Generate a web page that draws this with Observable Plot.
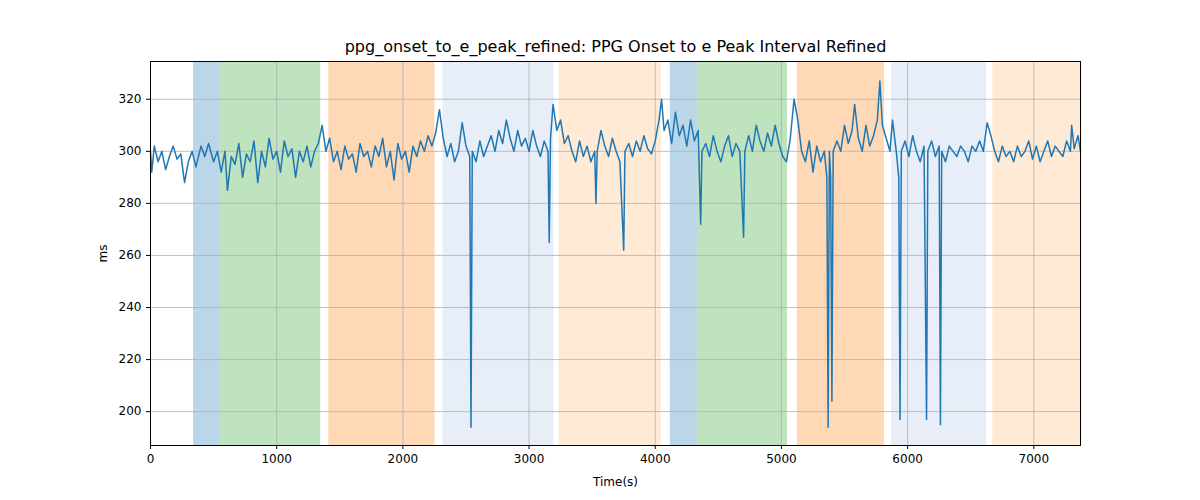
<!DOCTYPE html>
<html><head>
<script src="https://cdn.jsdelivr.net/npm/d3@7"></script>
<script src="https://cdn.jsdelivr.net/npm/@observablehq/plot@0.6"></script>
<style>body{margin:0;background:#fff}</style>
</head><body><div id="c"></div>
<script>
const raw = `0 300,10 292,30 302,60 296,90 300,120 293,150 298,180 302,210 297,240 299,270 288,300 296,330 300,360 294,400 302,430 298,460 303,500 296,530 300,560 292,590 300,610 285,640 298,670 295,700 303,730 290,760 299,790 296,820 304,850 288,880 300,910 294,940 305,970 297,1000 300,1030 292,1060 304,1090 298,1120 301,1150 290,1180 300,1210 296,1240 302,1270 294,1300 300,1330 303,1360 310,1390 300,1420 305,1450 296,1480 300,1510 293,1540 302,1570 297,1600 299,1630 292,1660 303,1690 298,1720 300,1750 294,1780 302,1810 298,1840 305,1870 294,1900 300,1930 289,1960 303,1990 297,2020 300,2050 292,2080 302,2110 298,2140 304,2170 300,2200 306,2230 302,2260 307,2290 316,2320 305,2350 298,2380 303,2410 296,2440 300,2470 311,2500 302,2530 298,2540 194,2550 300,2580 296,2610 304,2640 298,2670 302,2700 306,2730 300,2760 308,2790 303,2820 312,2850 305,2880 300,2910 308,2940 302,2970 305,3000 300,3030 308,3060 302,3090 298,3120 304,3150 300,3160 265,3170 305,3190 318,3220 308,3250 312,3280 303,3310 306,3340 300,3370 296,3400 304,3430 298,3460 302,3490 296,3520 300,3530 280,3540 300,3570 308,3600 302,3630 298,3660 305,3690 300,3720 296,3750 262,3760 300,3790 303,3820 298,3850 304,3880 300,3910 306,3940 301,3970 299,4000 304,4030 312,4050 320,4070 308,4100 312,4130 303,4160 315,4190 306,4220 310,4250 302,4280 312,4310 304,4340 308,4360 272,4370 300,4400 303,4430 298,4460 306,4490 300,4520 296,4550 302,4580 306,4610 298,4640 303,4670 300,4700 267,4710 300,4740 306,4770 300,4800 310,4830 304,4860 300,4890 307,4920 302,4950 310,4980 303,5010 298,5040 296,5070 305,5100 320,5130 312,5160 300,5190 296,5220 304,5250 292,5280 302,5310 296,5340 300,5360 290,5370 194,5380 300,5390 290,5400 204,5410 300,5440 304,5470 300,5500 310,5530 303,5560 308,5580 318,5610 305,5640 300,5670 310,5700 302,5730 306,5760 312,5780 327,5800 310,5830 305,5860 300,5880 312,5910 300,5930 290,5940 197,5950 300,5980 304,6010 298,6040 306,6070 300,6100 296,6130 302,6150 197,6160 300,6190 304,6220 298,6250 302,6260 195,6270 300,6300 296,6330 302,6360 300,6390 298,6420 302,6450 300,6480 296,6510 302,6540 300,6570 304,6600 300,6630 311,6660 306,6690 300,6720 296,6750 302,6780 298,6810 300,6840 296,6870 302,6900 298,6930 300,6960 304,6990 297,7020 302,7050 296,7080 300,7110 304,7140 298,7170 302,7200 300,7230 298,7260 304,7290 300,7300 310,7320 301,7350 306,7370 300`;
const times = raw.split(",").map(s => +s.split(" ")[0]);
const values = raw.split(",").map(s => +s.split(" ")[1]);
const bandStart = [341, 548, 1413, 2317, 3238, 4119, 4333, 5127, 5873, 6675];
const bandEnd   = [548, 1349, 2254, 3198, 4048, 4333, 5048, 5817, 6627, 7381];
const bandColor = ["#1f77b4", "#2ca02c", "#ff7f0e", "#aec7e8", "#ffbb78", "#1f77b4", "#2ca02c", "#ff7f0e", "#aec7e8", "#ffbb78"];
const xTicks = [0, 1000, 2000, 3000, 4000, 5000, 6000, 7000];
const yTicks = [200, 220, 240, 260, 280, 300, 320];
const title = "ppg_onset_to_e_peak_refined: PPG Onset to e Peak Interval Refined";

const series = times.map((t, i) => ({t, v: values[i]}));
const bands = bandStart.map((s, i) => ({s, e: bandEnd[i], c: bandColor[i]}));

const chart = Plot.plot({
  width: 1200, height: 500,
  marginLeft: 150, marginRight: 120, marginTop: 61, marginBottom: 55,
  style: {fontFamily: "DejaVu Sans", fontSize: "12px", color: "#000"},
  x: {domain: [0, 7370], ticks: xTicks, tickFormat: d => String(d), tickSize: 4, label: "Time(s)", labelAnchor: "center", labelArrow: "none", labelOffset: 40},
  y: {domain: [187, 334.5], ticks: yTicks, tickFormat: d => String(d), tickSize: 4, label: "ms", labelAnchor: "center", labelArrow: "none", labelOffset: 52},
  marks: [
    Plot.rectX(bands, {x1: "s", x2: "e", y1: 187, y2: 334.5, fill: "c", fillOpacity: 0.3}),
    Plot.gridX(xTicks, {stroke: "#b0b0b0", strokeOpacity: 1, strokeWidth: 0.8}),
    Plot.gridY(yTicks, {stroke: "#b0b0b0", strokeOpacity: 1, strokeWidth: 0.8}),
    Plot.line(series, {x: "t", y: "v", stroke: "#1f77b4", strokeWidth: 1.5}),
    Plot.frame({stroke: "#000"}),
    Plot.text([title], {frameAnchor: "top", dy: -21, fontSize: 16, fill: "#000"})
  ]
});
document.getElementById("c").append(chart);
</script></body></html>
